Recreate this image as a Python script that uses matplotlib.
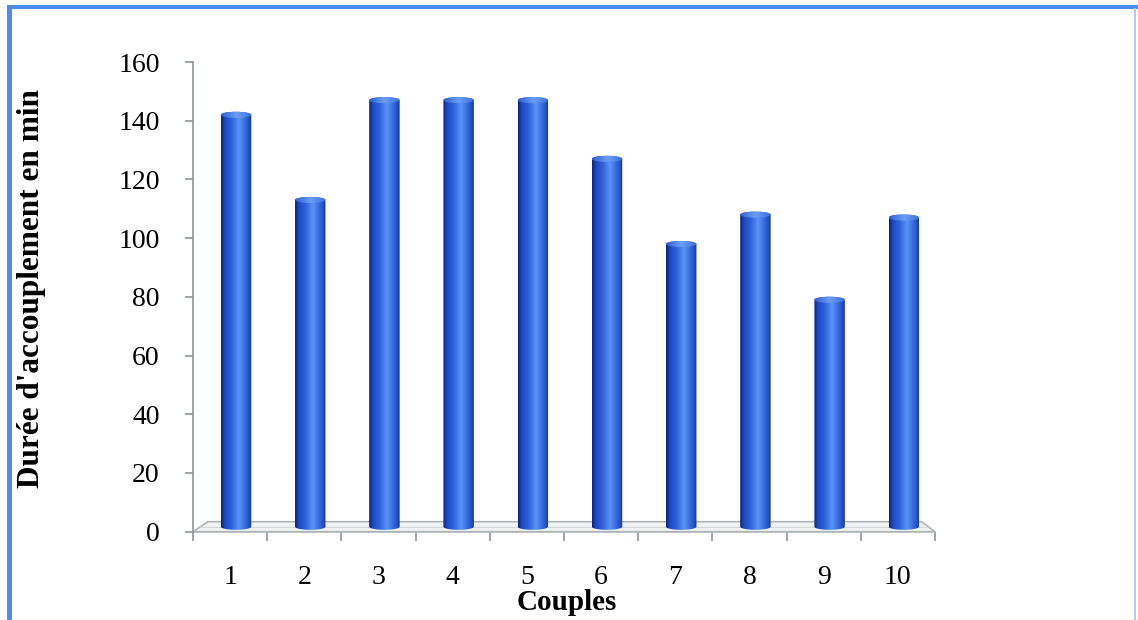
import numpy as np
import matplotlib
matplotlib.use("Agg")
import matplotlib.pyplot as plt
from matplotlib.path import Path
from matplotlib.patches import PathPatch, Ellipse, Polygon, Rectangle
from matplotlib.colors import LinearSegmentedColormap

# Mating duration for each couple (minutes)
couples = ["1", "2", "3", "4", "5", "6", "7", "8", "9", "10"]
durations = [142, 113, 147, 147, 147, 127, 98, 108, 79, 107]
y_ticks = [0, 20, 40, 60, 80, 100, 120, 140, 160]

serif = ["Liberation Serif", "DejaVu Serif"]

fig = plt.figure(figsize=(11.38, 6.2), dpi=100)
fig.patch.set_facecolor("white")
ax = fig.add_axes([0.1696, 0.1424, 0.652, 0.7576])

ax.set_xlim(0.5, 10.5)
ax.set_ylim(0, 160)

# Floor of the pseudo-3D plot area
floor = Polygon([(0.5, 0), (0.70, 3.4), (10.32, 3.4), (10.5, 0)], closed=True,
                facecolor="#f1f3f3", edgecolor="#aeb6b6", lw=1.2, zorder=1)
ax.add_patch(floor)
ax.plot([0.6, 10.41], [1.7, 1.7], color="#d4d9d9", lw=0.8, zorder=1)

body_cmap = LinearSegmentedColormap.from_list(
    "cyl", [(0.0, "#0b2170"), (0.12, "#1c48c0"), (0.35, "#2f63dc"),
            (0.58, "#5b93f4"), (0.72, "#4078e6"), (0.9, "#2452c8"), (1.0, "#16349a")])
cap_cmap = LinearSegmentedColormap.from_list(
    "cap", [(0.0, "#2e5ed2"), (0.5, "#6a9ef6"), (1.0, "#3a6ee0")])

half_w = 0.205
r = 1.05
base = 1.7
grad = np.linspace(0, 1, 256).reshape(1, -1)

for i, val in enumerate(durations):
    c = i + 1 + 0.08
    th_top = np.linspace(np.pi, 0, 40)
    th_bot = np.linspace(0, -np.pi, 40)
    verts = [(c - half_w, base), (c - half_w, val)]
    verts += [(c + half_w * np.cos(t), val + r * np.sin(t)) for t in th_top]
    verts += [(c + half_w, base)]
    verts += [(c + half_w * np.cos(t), base + r * np.sin(t)) for t in th_bot]
    path = Path(verts + [verts[0]], [Path.MOVETO] + [Path.LINETO] * (len(verts) - 1) + [Path.CLOSEPOLY])
    clip = PathPatch(path, transform=ax.transData, facecolor="none", edgecolor="none")
    ax.add_patch(clip)
    im = ax.imshow(grad, cmap=body_cmap, aspect="auto", interpolation="bilinear",
                   extent=[c - half_w, c + half_w, base - r, val + r], zorder=3)
    im.set_clip_path(clip)
    cap = Ellipse((c, val), 2 * half_w, 2 * r, transform=ax.transData,
                  facecolor="none", edgecolor="none")
    ax.add_patch(cap)
    im2 = ax.imshow(grad, cmap=cap_cmap, aspect="auto", interpolation="bilinear",
                    extent=[c - half_w, c + half_w, val - r, val + r], zorder=4)
    im2.set_clip_path(cap)

ax.set_xlim(0.5, 10.5)
ax.set_ylim(0, 160)

for s in ["top", "right"]:
    ax.spines[s].set_visible(False)
ax.spines["bottom"].set_visible(False)
ax.spines["left"].set_color("#8e9696")
ax.spines["left"].set_linewidth(1.2)
ax.spines["left"].set_zorder(2)

ax.set_yticks(y_ticks)
ax.set_yticklabels([str(v) for v in y_ticks], fontfamily=serif, fontsize=20)
ax.tick_params(axis="y", direction="out", length=6, width=1.2, color="#8e9696", pad=18)

# Category boundaries as major ticks, labels on category centres
ax.set_xticks(np.arange(0.5, 11.0, 1.0))
ax.set_xticklabels([""] * 11)
ax.tick_params(axis="x", which="major", direction="out", length=6.5, width=1.2, color="#8e9696")
ax.set_xticks(np.arange(1, 11), minor=True)
ax.set_xticklabels(couples, minor=True, fontfamily=serif, fontsize=20)
ax.tick_params(axis="x", which="minor", length=0, pad=24)
ax.plot([0.5, 10.5], [0, 0], color="#aeb6b6", lw=1.2, zorder=2, clip_on=False)

fig.text(32 / 1138, 0.534, "Durée d'accouplement en min", rotation=90,
         ha="center", va="center", fontfamily=serif, fontsize=22.5, fontweight="bold")
fig.text(567 / 1138, 1 - 602 / 620, "Couples", ha="center", va="center",
         fontfamily=serif, fontsize=21, fontweight="bold")

# Blue frame around the chart area
fig.add_artist(Rectangle((7 / 1138, 0), 5 / 1138, 1 - 5 / 620, transform=fig.transFigure,
                         facecolor="#4d8df0", edgecolor="none"))
fig.add_artist(Rectangle((7 / 1138, 1 - 9 / 620), 1 - 7 / 1138, 4 / 620, transform=fig.transFigure,
                         facecolor="#4d8df0", edgecolor="none"))
fig.add_artist(Rectangle((1134 / 1138, 0), 2 / 1138, 1 - 8 / 620, transform=fig.transFigure,
                         facecolor="#b4cdf2", edgecolor="none"))

fig.savefig("out.png", dpi=100)
